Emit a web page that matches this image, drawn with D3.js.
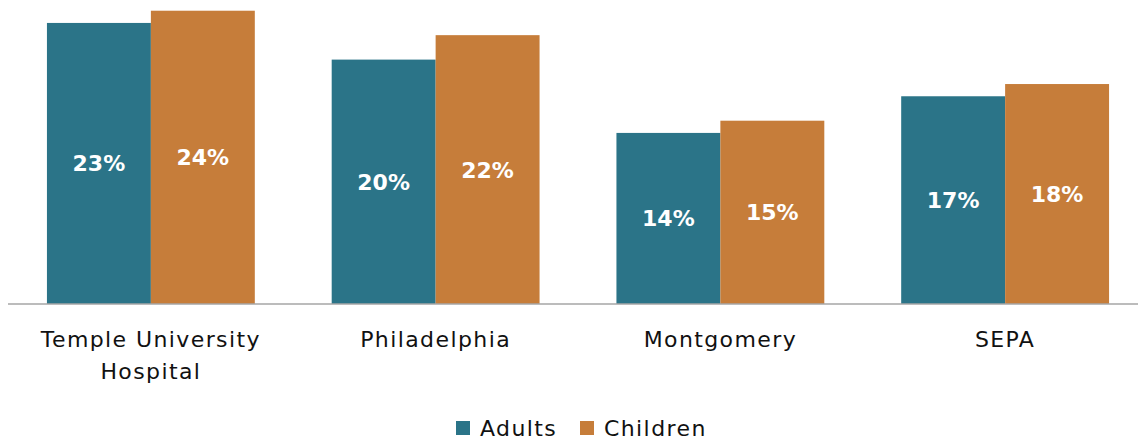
<!DOCTYPE html>
<html>
<head>
<meta charset="utf-8">
<script src="https://cdn.jsdelivr.net/npm/d3@7"></script>
<style>
  body { margin: 0; background: #fff; }
  svg { display: block; font-family: "DejaVu Sans", sans-serif; }
</style>
</head>
<body>
<div id="chart-area"></div>
<script>
// values (percent)
const categories = ['Temple University Hospital', 'Philadelphia', 'Montgomery', 'SEPA'];
const categoryLines = [['Temple University', 'Hospital'], ['Philadelphia'], ['Montgomery'], ['SEPA']];
const seriesNames = ['Adults', 'Children'];
const adults = [23, 20, 14, 17];
const children = [24, 22, 15, 18];

const width = 1138;
const height = 441;
const baseline = 304;
const colors = { Adults: '#2b7488', Children: '#c67d3a' };

const svg = d3.select('#chart-area')
    .append('svg')
    .attr('width', width)
    .attr('height', height);

// Scales
const x = d3.scaleBand()
    .domain(categories)
    .range([8.5, 1147.5])
    .paddingInner(0.27)
    .paddingOuter(0.135);

const xSeries = d3.scaleBand()
    .domain(seriesNames)
    .range([0, x.bandwidth()]);

const y = d3.scaleLinear()
    .domain([0, 25])
    .range([baseline, baseline - 25 * 12.22]);

const rows = categories.map((c, i) => ({
    category: c,
    values: [
        { series: 'Adults', value: adults[i] },
        { series: 'Children', value: children[i] }
    ]
}));

const groups = svg.selectAll('g.group')
    .data(rows)
    .enter()
    .append('g')
    .attr('class', 'group')
    .attr('transform', (d) => `translate(${x(d.category)}, 0)`);

groups.selectAll('rect')
    .data((d) => d.values)
    .enter()
    .append('rect')
    .attr('x', (d) => xSeries(d.series))
    .attr('y', (d) => y(d.value))
    .attr('width', xSeries.bandwidth())
    .attr('height', (d) => y(0) - y(d.value))
    .attr('fill', (d) => colors[d.series]);

// value labels in the middle of each bar
groups.selectAll('text.value')
    .data((d) => d.values)
    .enter()
    .append('text')
    .attr('class', 'value')
    .attr('x', (d) => xSeries(d.series) + xSeries.bandwidth() / 2)
    .attr('y', (d) => (y(d.value) + y(0)) / 2)
    .attr('dy', '0.36em')
    .attr('text-anchor', 'middle')
    .attr('font-size', '22px')
    .attr('font-weight', 'bold')
    .attr('fill', '#fff')
    .text((d) => d.value + '%');

// Axis line
const xAxis = d3.axisBottom(x).tickSize(0).tickFormat('');
svg.append('g')
    .attr('transform', `translate(0, ${baseline})`)
    .call(xAxis)
    .call((g) => g.select('.domain')
        .attr('d', `M8,0H${width}`)
        .attr('stroke', '#a6a6a6')
        .attr('stroke-width', 1.5));

// Category labels
svg.selectAll('text.cat')
    .data(categories)
    .enter()
    .append('text')
    .attr('class', 'cat')
    .attr('text-anchor', 'middle')
    .attr('font-size', '22px')
    .attr('letter-spacing', '1.4px')
    .attr('fill', '#111')
    .attr('y', 347)
    .each(function (d, i) {
        const t = d3.select(this);
        categoryLines[i].forEach((line, j) => {
            t.append('tspan')
                .attr('x', x(d) + x.bandwidth() / 2)
                .attr('dy', j === 0 ? 0 : 32)
                .text(line);
        });
    });

// Legend
const legend = svg.append('g')
    .attr('transform', 'translate(456, 421)');

const legendOffsets = [0, 124];
seriesNames.forEach((name, i) => {
    const row = legend.append('g')
        .attr('transform', `translate(${legendOffsets[i]}, 0)`);
    row.append('rect')
        .attr('width', 14)
        .attr('height', 14)
        .attr('fill', colors[name]);
    row.append('text')
        .attr('x', 24)
        .attr('y', 15)
        .attr('font-size', '22px')
        .attr('letter-spacing', '1.4px')
        .attr('fill', '#111')
        .text(name);
});
</script>
</body>
</html>
